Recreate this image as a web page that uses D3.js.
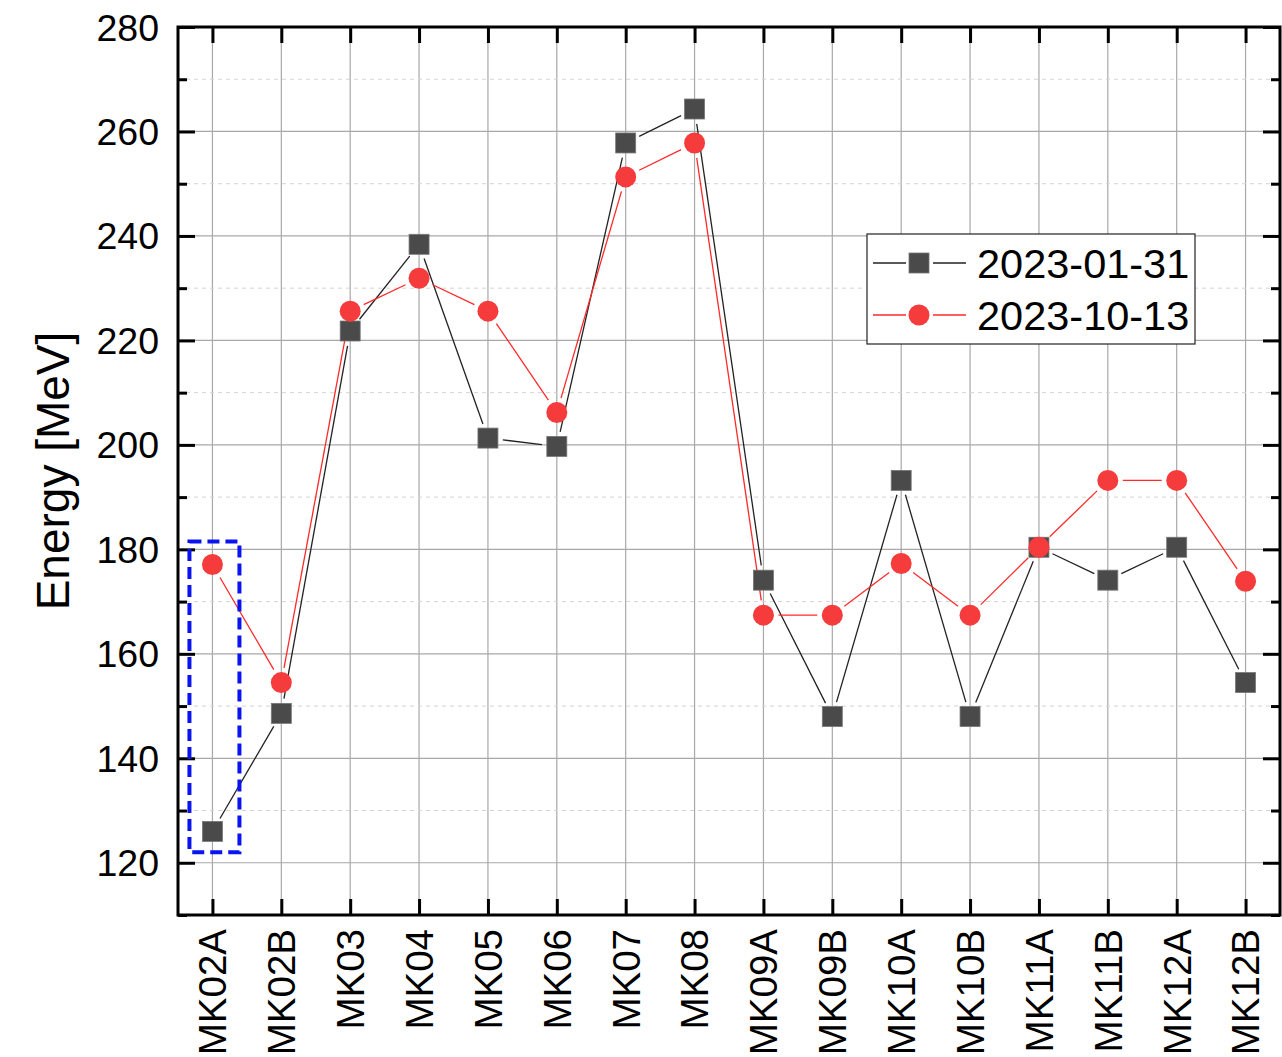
<!DOCTYPE html>
<html>
<head>
<meta charset="utf-8">
<script src="https://cdn.jsdelivr.net/npm/d3@7"></script>
<style>
  body { margin: 0; background: #fff; }
  text { font-family: "Liberation Sans", Arial, sans-serif; fill: #000; }
</style>
</head>
<body>
<div id="chart"></div>
<script>
// categories and series values
var stations = ["MK02A","MK02B","MK03","MK04","MK05","MK06","MK07","MK08",
                "MK09A","MK09B","MK10A","MK10B","MK11A","MK11B","MK12A","MK12B"];
var jan = [126.0,148.6,221.8,238.4,201.3,199.7,257.8,264.3,
           174.1,148.0,193.2,148.0,180.4,174.1,180.4,154.5];
var oct = [177.1,154.5,225.6,231.9,225.6,206.2,251.3,257.8,
           167.4,167.4,177.3,167.4,180.4,193.2,193.2,173.9];
var majorTicks = [120,140,160,180,200,220,240,260,280];
var minorTicks = [110,130,150,170,190,210,230,250,270];
var seriesNames = ["2023-01-31","2023-10-13"];

var W = 1282, H = 1057;
var pL = 178, pR = 1280, pT = 27, pB = 915;

var svg = d3.select("#chart").append("svg")
    .attr("width", W).attr("height", H);

var x = d3.scalePoint().domain(stations).range([pL, pR]).padding(0.5);
var y = d3.scaleLinear().domain([110, 280]).range([pB, pT]);

// grid
var grid = svg.append("g");
grid.selectAll(".vg").data(stations).enter().append("line")
    .attr("x1", function(d){ return x(d); }).attr("x2", function(d){ return x(d); })
    .attr("y1", pT).attr("y2", pB)
    .attr("stroke", "#a8a8a8").attr("stroke-width", 1.2);
grid.selectAll(".hg").data(majorTicks).enter().append("line")
    .attr("x1", pL).attr("x2", pR)
    .attr("y1", function(d){ return y(d); }).attr("y2", function(d){ return y(d); })
    .attr("stroke", "#a8a8a8").attr("stroke-width", 1.2);
grid.selectAll(".mg").data(minorTicks).enter().append("line")
    .attr("x1", pL).attr("x2", pR)
    .attr("y1", function(d){ return y(d); }).attr("y2", function(d){ return y(d); })
    .attr("stroke", "#d4d4d4").attr("stroke-width", 1).attr("stroke-dasharray", "4,4");

// axes (ticks inward, mirrored)
var axL = svg.append("g").attr("transform", "translate(" + pL + ",0)")
    .call(d3.axisRight(y).tickValues(majorTicks).tickSize(17).tickFormat(""));
var axLm = svg.append("g").attr("transform", "translate(" + pL + ",0)")
    .call(d3.axisRight(y).tickValues(minorTicks).tickSize(9).tickFormat(""));
var axR = svg.append("g").attr("transform", "translate(" + pR + ",0)")
    .call(d3.axisLeft(y).tickValues(majorTicks).tickSize(17).tickFormat(""));
var axRm = svg.append("g").attr("transform", "translate(" + pR + ",0)")
    .call(d3.axisLeft(y).tickValues(minorTicks).tickSize(9).tickFormat(""));
var axB = svg.append("g").attr("transform", "translate(0," + pB + ")")
    .call(d3.axisTop(x).tickSize(16).tickFormat(""));
var axT = svg.append("g").attr("transform", "translate(0," + pT + ")")
    .call(d3.axisBottom(x).tickSize(16).tickFormat(""));
[axL, axLm, axR, axRm, axB, axT].forEach(function(a){
  a.select(".domain").remove();
  a.selectAll(".tick line").attr("stroke", "#000").attr("stroke-width", 3);
});

svg.append("rect")
    .attr("x", pL).attr("y", pT)
    .attr("width", pR - pL).attr("height", pB - pT)
    .attr("fill", "none").attr("stroke", "#000").attr("stroke-width", 3);

// tick labels
svg.selectAll(".ylab").data(majorTicks).enter().append("text")
    .attr("x", 159).attr("y", function(d){ return y(d); })
    .attr("dy", "0.36em").attr("text-anchor", "end")
    .style("font-size", "37.5px")
    .text(function(d){ return d; });

svg.selectAll(".xlab").data(stations).enter().append("text")
    .attr("transform", function(d){ return "translate(" + x(d) + ",929) rotate(-90)"; })
    .attr("dy", "0.36em").attr("text-anchor", "end")
    .style("font-size", "38.5px")
    .text(function(d){ return d; });

svg.append("text")
    .attr("transform", "translate(69,471) rotate(-90)")
    .attr("text-anchor", "middle")
    .style("font-size", "46px")
    .text("Energy [MeV]");

// line segments with gaps at markers
function segments(vals, gap) {
  var pts = vals.map(function(v, i){ return [x(stations[i]), y(v)]; });
  var segs = [];
  for (var i = 0; i < pts.length - 1; i++) {
    var a = pts[i], b = pts[i+1];
    var dx = b[0]-a[0], dy = b[1]-a[1], L = Math.sqrt(dx*dx+dy*dy);
    if (L <= 2*gap) continue;
    var ux = dx/L, uy = dy/L;
    segs.push([a[0]+ux*gap, a[1]+uy*gap, b[0]-ux*gap, b[1]-uy*gap]);
  }
  return segs;
}

function drawLines(vals, color, gap) {
  svg.append("g").selectAll("line").data(segments(vals, gap)).enter().append("line")
      .attr("x1", function(d){ return d[0]; }).attr("y1", function(d){ return d[1]; })
      .attr("x2", function(d){ return d[2]; }).attr("y2", function(d){ return d[3]; })
      .attr("stroke", color).attr("stroke-width", 1.3);
}

drawLines(jan, "#222", 15);
drawLines(oct, "#ff2a2a", 15);

var sq = 20;
svg.append("g").selectAll("rect").data(jan).enter().append("rect")
    .attr("x", function(d, i){ return x(stations[i]) - sq/2; })
    .attr("y", function(d){ return y(d) - sq/2; })
    .attr("width", sq).attr("height", sq)
    .attr("fill", "#4a4a4a").attr("stroke", "#777").attr("stroke-width", 0.8);

svg.append("g").selectAll("circle").data(oct).enter().append("circle")
    .attr("cx", function(d, i){ return x(stations[i]); })
    .attr("cy", function(d){ return y(d); })
    .attr("r", 10.5)
    .attr("fill", "#f53b3b");

// highlight box around MK02A
var bx = x("MK02A");
svg.append("rect")
    .attr("x", bx - 23).attr("y", y(181.5))
    .attr("width", 50).attr("height", y(122) - y(181.5))
    .attr("fill", "none").attr("stroke", "#0a14f0")
    .attr("stroke-width", 4).attr("stroke-dasharray", "12,6");

// legend
var lg = svg.append("g");
lg.append("rect").attr("x", 867).attr("y", 234).attr("width", 328).attr("height", 110)
    .attr("fill", "#fff").attr("stroke", "#222").attr("stroke-width", 1.2);
var rows = [263, 315];
lg.append("line").attr("x1", 873).attr("x2", 906).attr("y1", rows[0]).attr("y2", rows[0]).attr("stroke", "#222").attr("stroke-width", 1.3);
lg.append("line").attr("x1", 933).attr("x2", 966).attr("y1", rows[0]).attr("y2", rows[0]).attr("stroke", "#222").attr("stroke-width", 1.3);
lg.append("rect").attr("x", 919 - sq/2).attr("y", rows[0] - sq/2).attr("width", sq).attr("height", sq)
    .attr("fill", "#4a4a4a").attr("stroke", "#777").attr("stroke-width", 0.8);
lg.append("line").attr("x1", 873).attr("x2", 906).attr("y1", rows[1]).attr("y2", rows[1]).attr("stroke", "#ff2a2a").attr("stroke-width", 1.3);
lg.append("line").attr("x1", 933).attr("x2", 966).attr("y1", rows[1]).attr("y2", rows[1]).attr("stroke", "#ff2a2a").attr("stroke-width", 1.3);
lg.append("circle").attr("cx", 919).attr("cy", rows[1]).attr("r", 10.5).attr("fill", "#f53b3b");
lg.selectAll("text").data(seriesNames).enter().append("text")
    .attr("x", 977).attr("y", function(d, i){ return rows[i]; })
    .attr("dy", "0.36em")
    .style("font-size", "41.5px")
    .text(function(d){ return d; });
</script>
</body>
</html>
